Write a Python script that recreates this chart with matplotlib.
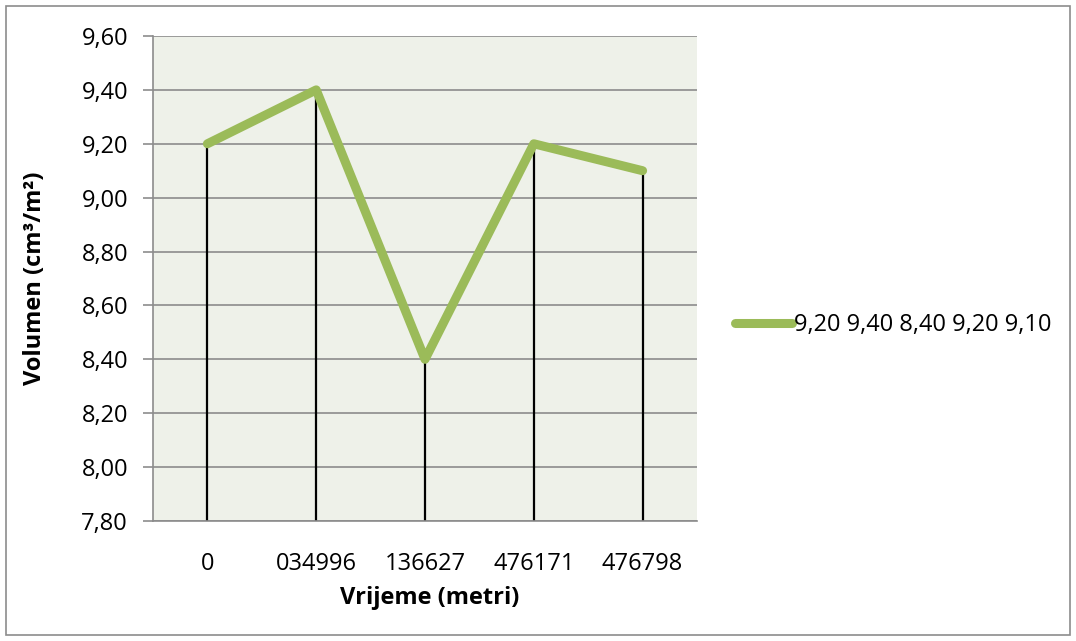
import matplotlib
matplotlib.use("Agg")
import matplotlib.pyplot as plt
from matplotlib.patches import Rectangle

categories = ["0", "034996", "136627", "476171", "476798"]
values = [9.20, 9.40, 8.40, 9.20, 9.10]
series_name = "9,20 9,40 8,40 9,20 9,10"
yticks = [7.80, 8.00, 8.20, 8.40, 8.60, 8.80, 9.00, 9.20, 9.40, 9.60]

plt.rcParams['font.family'] = ['Open Sans', 'DejaVu Sans']
FS = 17

W, H = 1076, 641
fig = plt.figure(figsize=(W / 100, H / 100), dpi=100)
fig.patch.set_facecolor('white')
fig.add_artist(Rectangle((6 / W, 6 / H), (W - 12) / W, (H - 12) / H,
                         transform=fig.transFigure, fill=False,
                         edgecolor='#8c8c8c', linewidth=1.2))

left, right, top, bottom = 153, 697, 36, 521
ax = fig.add_axes([left / W, 1 - bottom / H, (right - left) / W, (bottom - top) / H])
ax.set_facecolor('#EEF1E9')

x = list(range(len(categories)))
ax.set_xlim(-0.5, len(categories) - 0.5)
ax.set_ylim(yticks[0], yticks[-1])

for yt in yticks:
    ax.axhline(yt, color='#8c8c8c', linewidth=1.2, zorder=1)

ax.vlines(x, yticks[0], values, color='black', linewidth=1.6, zorder=2)
ax.plot(x, values, color='#9BBB59', linewidth=6.5, solid_capstyle='round',
        solid_joinstyle='round', zorder=3, label=series_name)

ax.set_yticks(yticks)
ax.set_yticklabels([f"{v:.2f}".replace('.', ',') for v in yticks], fontsize=FS)
ax.set_xticks(x)
ax.set_xticklabels(categories, fontsize=FS)
ax.tick_params(axis='x', length=0, pad=22)
ax.tick_params(axis='y', length=7, width=1.2, color='#8c8c8c', pad=11)

for s in ['top', 'right']:
    ax.spines[s].set_visible(False)
ax.spines['left'].set_color('#8c8c8c')
ax.spines['left'].set_linewidth(1.2)
ax.spines['bottom'].set_color('#8c8c8c')
ax.spines['bottom'].set_linewidth(1.2)

fig.text(430 / W, 1 - 598 / H, "Vrijeme (metri)", fontsize=FS, fontweight='bold',
         ha='center', va='center')
fig.text(35 / W, 1 - 278 / H, "Volumen (cm³/m²)", fontsize=FS, fontweight='bold',
         ha='center', va='center', rotation=90)

leg = fig.legend(loc='center left', bbox_to_anchor=(735 / W, 1 - 325 / H),
                 frameon=False, fontsize=FS, handlelength=2.4, handletextpad=0.1,
                 borderpad=0, borderaxespad=0)

fig.savefig("out.png", dpi=100)
